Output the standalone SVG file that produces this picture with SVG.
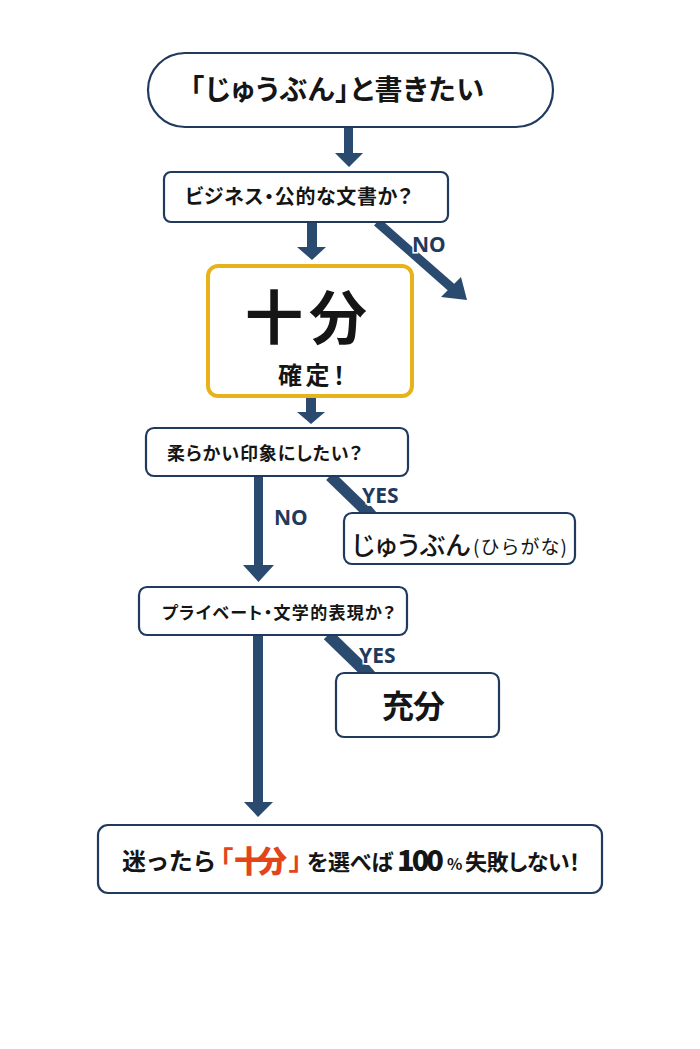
<svg xmlns="http://www.w3.org/2000/svg" width="700" height="1049" viewBox="0 0 700 1049">
<style>
.box{fill:#fff;stroke:#1f3a5c;stroke-width:2.2}
.gold{fill:#fff;stroke:#e8b21a;stroke-width:4}
.t{font-family:"Noto Sans CJK JP","Noto Sans",sans-serif;fill:#151515;font-feature-settings:"palt"}
.b{font-weight:700}
.lbl{font-family:"Noto Sans","Liberation Sans",sans-serif;font-weight:700;fill:#1f3a5c;font-size:21px;stroke:#fff;stroke-width:3;paint-order:stroke}
.arr{fill:#2b4a70}
.ln{stroke:#2b4a70;fill:none}
.or{fill:#e2451b}
</style>
<rect width="700" height="1049" fill="#fff"/>
<g id="connectors">
<polygon class="arr" points="344,127 353,127 353,153 363,153 349,167 335,153 344,153"/>
<polygon class="arr" points="307,222 317,222 317,247 326,247 312,260 297,247 307,247"/>
<polygon class="arr" points="306,397 316,397 316,412 325,412 311,424 297,412 306,412"/>
<polygon class="arr" points="254,476 263,476 263,565 274,565 258.5,582 243,565 254,565"/>
<polygon class="arr" points="253,635 263,635 263,802 273,802 258,817 244,802 253,802"/>
<line class="ln" x1="377" y1="222" x2="452" y2="288" stroke-width="9"/>
<polygon class="arr" points="467,300 441,297 461,277"/>
<line class="ln" x1="330" y1="476" x2="364" y2="509" stroke-width="11"/>
<polygon class="arr" points="356,506 371,506 377,513 360,513"/>
<line class="ln" x1="328" y1="635" x2="362" y2="668" stroke-width="12"/>
<polygon class="arr" points="354,665 369,665 375,672 358,672"/>
<text class="lbl" x="412" y="252">NO</text>
<text class="lbl" x="274" y="525">NO</text>
<text class="lbl" x="362" y="503">YES</text>
<text class="lbl" x="359" y="663">YES</text>
</g>
<g id="start">
<rect class="box" x="148" y="53" width="405" height="74" rx="37"/>
<text class="t b" x="190" y="100" font-size="28" textLength="294" lengthAdjust="spacing">「じゅうぶん」と書きたい</text>
</g>
<g id="q1">
<rect class="box" x="164" y="172" width="284" height="50" rx="7"/>
<text class="t b" x="185" y="204" font-size="20" textLength="227" lengthAdjust="spacing">ビジネス・公的な文書か？</text>
</g>
<g id="result-juubun">
<rect class="gold" x="208" y="266" width="204" height="130" rx="10"/>
<text class="t b" x="245" y="339" font-size="58" textLength="122" lengthAdjust="spacing">十分</text>
<text class="t b" x="278" y="384" font-size="24" textLength="67" lengthAdjust="spacing">確定！</text>
</g>
<g id="q2">
<rect class="box" x="146" y="428" width="262" height="48" rx="8"/>
<text class="t b" x="167" y="460" font-size="18" textLength="195" lengthAdjust="spacing">柔らかい印象にしたい？</text>
</g>
<g id="result-hiragana">
<rect class="box" x="344" y="513" width="231" height="51" rx="8"/>
<text class="t" x="352" y="555" font-size="26" font-weight="500" textLength="118" lengthAdjust="spacing">じゅうぶん</text>
<text x="473" y="554" font-size="19" font-family="Noto Sans CJK JP, sans-serif" fill="#151515" textLength="94" lengthAdjust="spacing">(ひらがな)</text>
</g>
<g id="q3">
<rect class="box" x="139" y="587" width="268" height="48" rx="8"/>
<text class="t b" x="162" y="619" font-size="17" textLength="233" lengthAdjust="spacing">プライベート・文学的表現か？</text>
</g>
<g id="result-juubun2">
<rect class="box" x="336" y="673" width="163" height="64" rx="8"/>
<text class="t b" x="382" y="718" font-size="32" textLength="63" lengthAdjust="spacing">充分</text>
</g>
<g id="conclusion">
<rect class="box" x="98" y="825" width="504" height="68" rx="10"/>
<text class="t b" x="122" y="870" font-size="24" textLength="93" lengthAdjust="spacing">迷ったら</text>
<text class="t b or" x="220" y="870" font-size="26">「</text>
<text class="t or" x="234" y="872" font-size="30" font-weight="900" textLength="53" lengthAdjust="spacing">十分</text>
<text class="t b or" x="289" y="870" font-size="26">」</text>
<text class="t b" x="307" y="870" font-size="22" textLength="86" lengthAdjust="spacing">を選べば</text>
<text class="t" x="397" y="871" font-size="29" font-weight="900" textLength="47" lengthAdjust="spacing">100</text>
<text class="t b" x="447" y="870" font-size="16" textLength="16" lengthAdjust="spacing">%</text>
<text class="t b" x="465" y="870" font-size="22" textLength="115" lengthAdjust="spacing">失敗しない！</text>
</g>
</svg>
